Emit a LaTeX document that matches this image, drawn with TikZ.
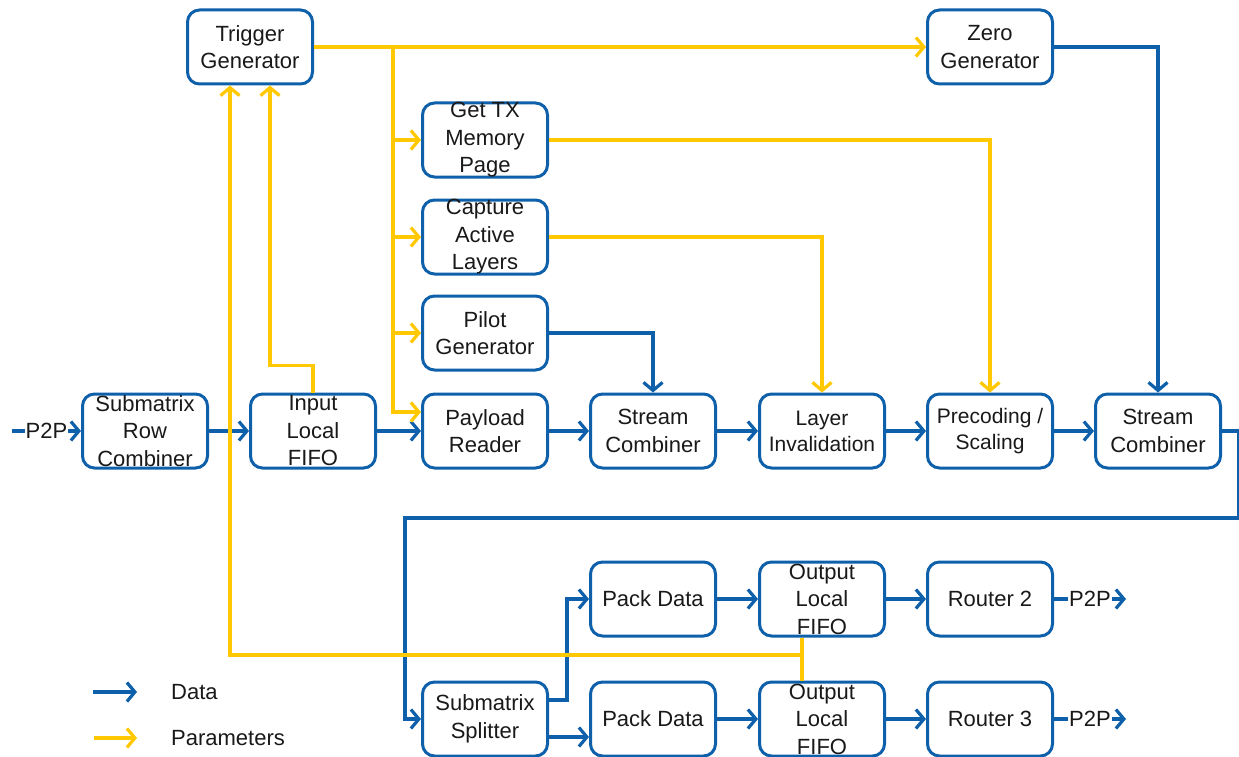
\documentclass[tikz,border=0pt]{standalone}
\usepackage{fontspec}
\setmainfont{Liberation Sans}
\usetikzlibrary{arrows.meta,positioning}
\definecolor{datablue}{HTML}{0F60AA}
\definecolor{paramyellow}{HTML}{FFC800}

\tikzset{
  blk/.style={draw=datablue, line width=3pt, rounded corners=12pt, fill=white,
    minimum width=125pt, minimum height=74pt, inner sep=0pt},
  every label/.style={align=center, text=black!90, font=\fontsize{22}{27.5}\selectfont},
  small/.style={font=\fontsize{21}{26}\selectfont},
  data/.style={draw=datablue, line width=3.2pt, -{Straight Barb[length=8pt,width=19pt]}},
  param/.style={draw=paramyellow, line width=3.2pt, -{Straight Barb[length=8pt,width=19pt]}},
  tag/.style={fill=white, inner sep=1pt, text=black!90, font=\fontsize{22}{27.5}\selectfont},
}

\begin{document}
\begin{tikzpicture}[x=1pt,y=-1pt]
	\useasboundingbox (0,0) rectangle (1239,757);
	
	% blocks, top part
	\node[blk, label=center:{Trigger\\Generator}] (trig) at (250,47) {};
	\node[blk, label=center:{Zero\\Generator}] (zero) at (990,47) {};
	\node[blk, label=center:{Get TX\\Memory\\Page}] (gettx) at (485,140) {};
	\node[blk, label=center:{Capture\\Active\\Layers}] (capt) at (485,237) {};
	\node[blk, label=center:{Pilot\\Generator}] (pilot) at (485,333) {};
	
	% main chain
	\node[blk, label=center:{Submatrix\\Row\\Combiner}] (src) at (145,431) {};
	\node[blk, label=center:{Input\\Local\\FIFO}] (infifo) at (313,431) {};
	\node[blk, label=center:{Payload\\Reader}] (payload) at (485,431) {};
	\node[blk, label=center:{Stream\\Combiner}] (sc1) at (653,431) {};
	\node[blk, label={[small]center:{Layer\\Invalidation}}] (layer) at (822,431) {};
	\node[blk, label={[small]center:{Precoding /\\Scaling}}] (prec) at (990,431) {};
	\node[blk, label=center:{Stream\\Combiner}] (sc2) at (1158,431) {};
	
	% output part
	\node[blk, label=center:{Pack Data}] (pack1) at (653,599) {};
	\node[blk, label=center:{Output\\Local\\FIFO}] (ofifo1) at (822,599) {};
	\node[blk, label=center:{Router 2}] (rt2) at (990,599) {};
	\node[blk, label=center:{Submatrix\\Splitter}] (split) at (485,719) {};
	\node[blk, label=center:{Pack Data}] (pack2) at (653,719) {};
	\node[blk, label=center:{Output\\Local\\FIFO}] (ofifo2) at (822,719) {};
	\node[blk, label=center:{Router 3}] (rt3) at (990,719) {};
	
	\coordinate (p2pin) at (12,431);
	\coordinate (p2pout2) at (1126,599);
	\coordinate (p2pout3) at (1126,719);
	\coordinate (bus) at (393,47);
	\coordinate (ofbus) at (802,655);
	
	% data paths
	\draw[data] (p2pin) -- node[tag]{P2P} (src.west);
	\draw[data] (src) -- (infifo);
	\draw[data] (infifo) -- (payload);
	\draw[data] (payload) -- (sc1);
	\draw[data] (sc1) -- (layer);
	\draw[data] (layer) -- (prec);
	\draw[data] (prec) -- (sc2);
	\draw[data] (pilot.east) -| (sc1.north);
	\draw[data] (zero.east) -| (sc2.north);
	\draw[data] (sc2.east) -- ++(17,0) |- (405,518) |- (split.west);
	\draw[data] ([yshift=19pt]split.east) -- ++(18,0) |- (pack1.west);
	\draw[data] ([yshift=-18pt]split.east) -- ([yshift=-18pt]split.east -| pack2.west);
	\draw[data] (pack1) -- (ofifo1);
	\draw[data] (ofifo1) -- (rt2);
	\draw[data] (rt2.east) -- node[tag]{P2P} (p2pout2);
	\draw[data] (pack2) -- (ofifo2);
	\draw[data] (ofifo2) -- (rt3);
	\draw[data] (rt3.east) -- node[tag]{P2P} (p2pout3);
	
	% parameter paths
	\draw[param] (trig.east) -- (zero.west);
	\draw[param] (bus) |- (gettx.west);
	\draw[param] (bus) |- (capt.west);
	\draw[param] (bus) |- (pilot.west);
	\draw[param] (bus) |- ([yshift=19pt]payload.west);
	\draw[param] (gettx.east) -| (prec.north);
	\draw[param] (capt.east) -| (layer.north);
	\draw[param] (infifo.north) -- ++(0,-27) -| ([xshift=20pt]trig.south);
	\draw[draw=paramyellow, line width=3.2pt] ([xshift=-20pt]ofifo1.south) -- ([xshift=-20pt]ofifo2.north);
	\draw[param] (ofbus) -| ([xshift=-20pt]trig.south);
	
	% legend
	\coordinate (lgd1) at (93,692);
	\coordinate (lgd2) at (94,738);
	\draw[data] (lgd1) -- ++(44,0);
	\draw[param] (lgd2) -- ++(43,0);
	\node[tag, anchor=west] (lgdata) at (170,692) {Data};
	\node[tag, anchor=west] (lgparam) at (170,738) {Parameters};
\end{tikzpicture}
\end{document}
